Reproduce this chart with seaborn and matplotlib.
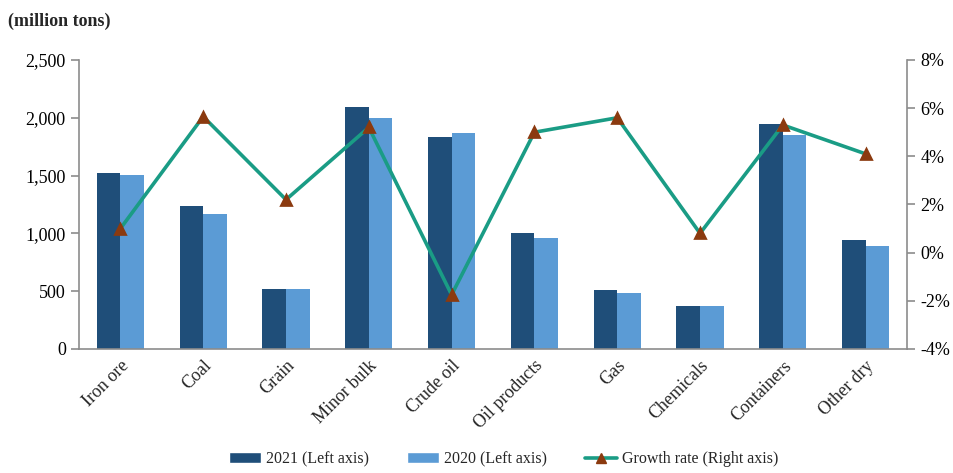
import numpy as np
import pandas as pd
import seaborn as sns
import matplotlib.pyplot as plt
from matplotlib.lines import Line2D
from matplotlib.patches import Patch
from matplotlib.ticker import FuncFormatter, PercentFormatter

categories = ["Iron ore", "Coal", "Grain", "Minor bulk", "Crude oil",
              "Oil products", "Gas", "Chemicals", "Containers", "Other dry"]
vol_2021 = [1520, 1237, 519, 2093, 1830, 1003, 510, 368, 1950, 943]
vol_2020 = [1505, 1168, 515, 1994, 1864, 956, 484, 368, 1851, 895]
growth = [1.0, 5.65, 2.2, 5.2, -1.75, 5.0, 5.6, 0.8, 5.3, 4.1]

C21 = "#1F4E79"
C20 = "#5B9BD5"
CLINE = "#1A9C85"
CMARK = "#8B3A0F"
GRAY = "#8C8C8C"

sns.set_theme(style="white")
plt.rcParams["font.family"] = ["Liberation Serif", "DejaVu Serif"]
plt.rcParams["axes.unicode_minus"] = False

df = pd.DataFrame({
    "cat": categories * 2,
    "year": ["2021"] * len(categories) + ["2020"] * len(categories),
    "value": vol_2021 + vol_2020,
})

fig = plt.figure(figsize=(9.54, 4.73), dpi=100)
ax = fig.add_axes([0.0828, 0.2622, 0.868, 0.611])
sns.barplot(data=df, x="cat", y="value", hue="year", order=categories,
            hue_order=["2021", "2020"], palette=[C21, C20], width=0.57,
            saturation=1, linewidth=0, ax=ax, legend=False)
ax.set_ylim(0, 2500)
ax.set_yticks(range(0, 2501, 500))
ax.yaxis.set_major_formatter(FuncFormatter(lambda v, p: f"{int(v):,}"))
ax.set_xlabel("")
ax.set_ylabel("")
ax.set_xlim(-0.5, len(categories) - 0.5)

ax2 = ax.twinx()
gdf = pd.DataFrame({"cat": categories, "growth": growth})
sns.pointplot(data=gdf, x="cat", y="growth", order=categories, color=CLINE,
              markers="^", linewidth=2.6, markersize=7, ax=ax2)
for ln in ax2.lines:
    ln.set_markerfacecolor(CMARK)
    ln.set_markeredgecolor(CMARK)
ax2.set_ylim(-4, 8)
ax2.set_yticks(range(-4, 9, 2))
ax2.yaxis.set_major_formatter(PercentFormatter(decimals=0))
ax2.set_ylabel("")
ax2.set_xlim(-0.5, len(categories) - 0.5)

for a in (ax, ax2):
    a.spines["top"].set_visible(False)
    for s in ("left", "right", "bottom"):
        a.spines[s].set_color(GRAY)
        a.spines[s].set_linewidth(1.2)
    a.tick_params(axis="y", which="major", length=6, width=1.2, color=GRAY,
                  labelsize=13, labelcolor="black", direction="out")
ax.spines["right"].set_visible(False)
ax2.spines["left"].set_visible(False)
ax2.spines["bottom"].set_visible(False)
ax.tick_params(axis="x", length=0, labelsize=13, pad=6)
ax.yaxis.set_ticks_position("left")
ax2.yaxis.set_ticks_position("right")
plt.setp(ax.get_xticklabels(), rotation=45, ha="right", rotation_mode="anchor")

fig.text(0.008, 0.955, "(million tons)", fontsize=13, fontweight="bold",
         ha="left", va="center")

handles = [
    Patch(facecolor=C21, label="2021 (Left axis)"),
    Patch(facecolor=C20, label="2020 (Left axis)"),
    Line2D([0], [0], color=CLINE, lw=2.6, marker="^", markersize=7,
           markerfacecolor=CMARK, markeredgecolor=CMARK,
           label="Growth rate (Right axis)"),
]
fig.legend(handles=handles, loc="lower center", bbox_to_anchor=(0.528, -0.018),
           ncol=3, frameon=False, fontsize=11.5, handlelength=2.0,
           handleheight=0.7, columnspacing=2.4, handletextpad=0.3)

fig.savefig("out.png", dpi=100)
